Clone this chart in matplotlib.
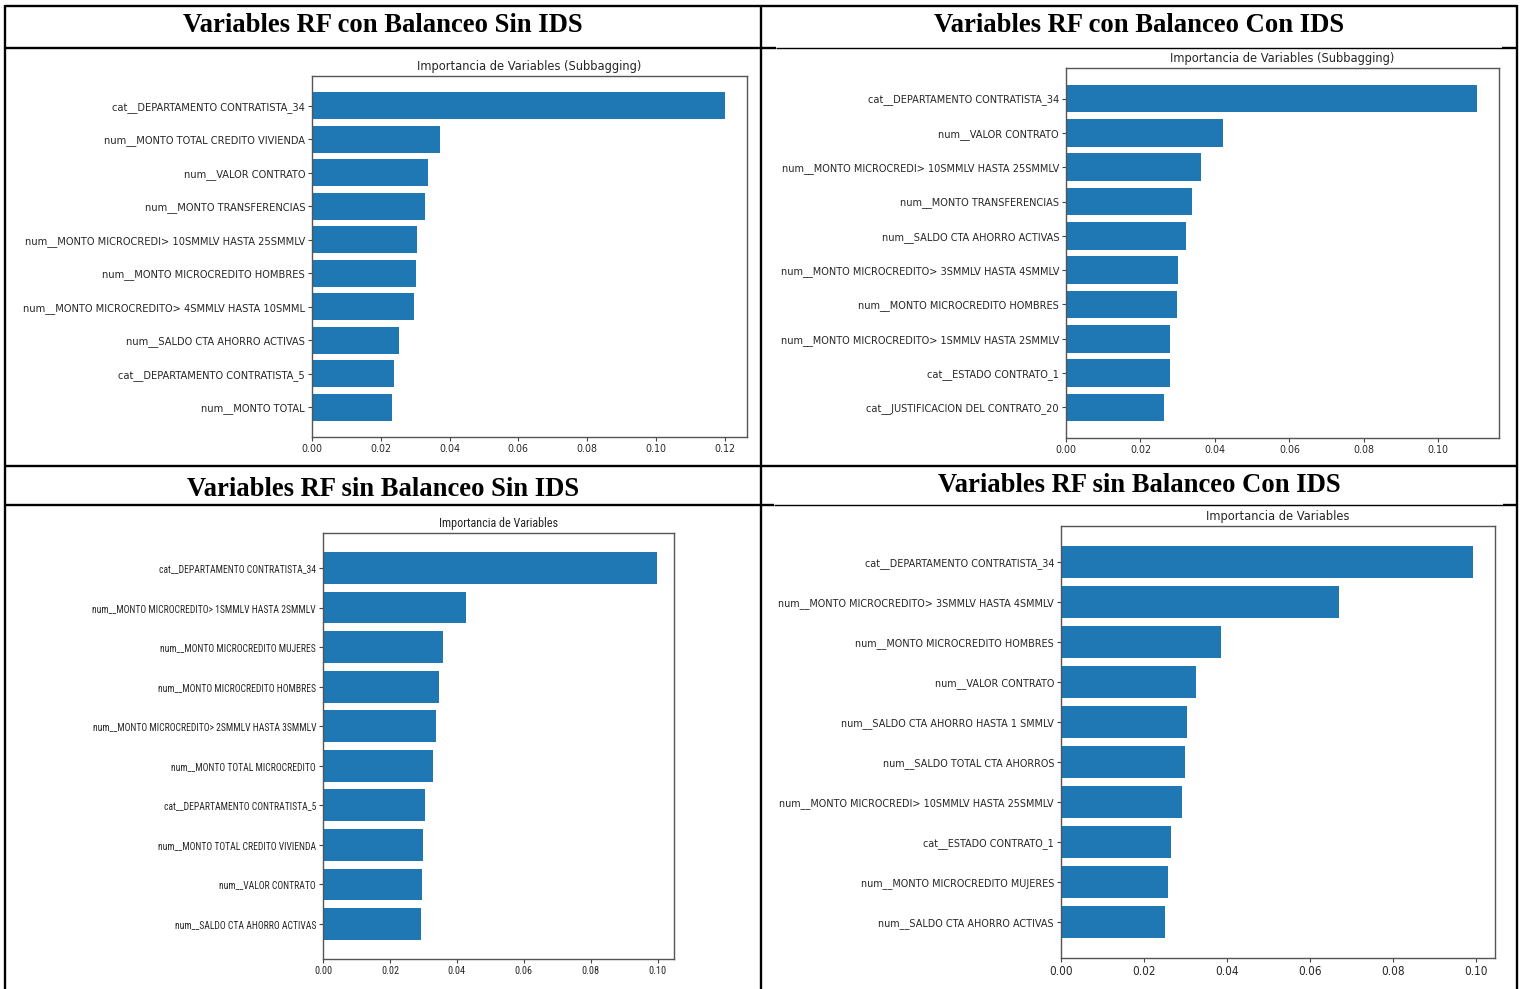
import matplotlib
matplotlib.use("Agg")
import matplotlib.pyplot as plt
from matplotlib import font_manager

W, H = 1523, 989
BAR_COLOR = "#1f77b4"

# ---- data -----------------------------------------------------------------
titles = [
    "Variables RF con Balanceo Sin IDS",
    "Variables RF con Balanceo Con IDS",
    "Variables RF sin Balanceo Sin IDS",
    "Variables RF sin Balanceo Con IDS",
]
chart_titles = [
    "Importancia de Variables (Subbagging)",
    "Importancia de Variables (Subbagging)",
    "Importancia de Variables",
    "Importancia de Variables",
]

labels_1 = [
    "cat__DEPARTAMENTO CONTRATISTA_34",
    "num__MONTO TOTAL CREDITO VIVIENDA",
    "num__VALOR CONTRATO",
    "num__MONTO TRANSFERENCIAS",
    "num__MONTO MICROCREDI> 10SMMLV HASTA 25SMMLV",
    "num__MONTO MICROCREDITO HOMBRES",
    "num__MONTO MICROCREDITO> 4SMMLV HASTA 10SMML",
    "num__SALDO CTA AHORRO ACTIVAS",
    "cat__DEPARTAMENTO CONTRATISTA_5",
    "num__MONTO TOTAL",
]
values_1 = [0.1201, 0.0373, 0.0338, 0.0330, 0.0304, 0.0303, 0.0297, 0.0253, 0.0239, 0.0233]

labels_2 = [
    "cat__DEPARTAMENTO CONTRATISTA_34",
    "num__VALOR CONTRATO",
    "num__MONTO MICROCREDI> 10SMMLV HASTA 25SMMLV",
    "num__MONTO TRANSFERENCIAS",
    "num__SALDO CTA AHORRO ACTIVAS",
    "num__MONTO MICROCREDITO> 3SMMLV HASTA 4SMMLV",
    "num__MONTO MICROCREDITO HOMBRES",
    "num__MONTO MICROCREDITO> 1SMMLV HASTA 2SMMLV",
    "cat__ESTADO CONTRATO_1",
    "cat__JUSTIFICACION DEL CONTRATO_20",
]
values_2 = [0.1105, 0.0422, 0.0362, 0.0339, 0.0322, 0.0301, 0.0298, 0.0280, 0.0278, 0.0264]

labels_3 = [
    "cat__DEPARTAMENTO CONTRATISTA_34",
    "num__MONTO MICROCREDITO> 1SMMLV HASTA 2SMMLV",
    "num__MONTO MICROCREDITO MUJERES",
    "num__MONTO MICROCREDITO HOMBRES",
    "num__MONTO MICROCREDITO> 2SMMLV HASTA 3SMMLV",
    "num__MONTO TOTAL MICROCREDITO",
    "cat__DEPARTAMENTO CONTRATISTA_5",
    "num__MONTO TOTAL CREDITO VIVIENDA",
    "num__VALOR CONTRATO",
    "num__SALDO CTA AHORRO ACTIVAS",
]
values_3 = [0.0999, 0.0428, 0.0359, 0.0348, 0.0338, 0.0328, 0.0304, 0.0299, 0.0296, 0.0293]

labels_4 = [
    "cat__DEPARTAMENTO CONTRATISTA_34",
    "num__MONTO MICROCREDITO> 3SMMLV HASTA 4SMMLV",
    "num__MONTO MICROCREDITO HOMBRES",
    "num__VALOR CONTRATO",
    "num__SALDO CTA AHORRO HASTA 1 SMMLV",
    "num__SALDO TOTAL CTA AHORROS",
    "num__MONTO MICROCREDI> 10SMMLV HASTA 25SMMLV",
    "cat__ESTADO CONTRATO_1",
    "num__MONTO MICROCREDITO MUJERES",
    "num__SALDO CTA AHORRO ACTIVAS",
]
values_4 = [0.0995, 0.0671, 0.0385, 0.0326, 0.0305, 0.0299, 0.0291, 0.0265, 0.0259, 0.0252]

x_max = [0.1265, 0.1163, 0.1049, 0.1047]
x_ticks = [
    [0.00, 0.02, 0.04, 0.06, 0.08, 0.10, 0.12],
    [0.00, 0.02, 0.04, 0.06, 0.08, 0.10],
    [0.00, 0.02, 0.04, 0.06, 0.08, 0.10],
    [0.00, 0.02, 0.04, 0.06, 0.08, 0.10],
]

# ---- fonts ----------------------------------------------------------------
available = {f.name for f in font_manager.fontManager.ttflist}
narrow = None
for cand in ["Liberation Sans Narrow", "DejaVu Sans Condensed", "Roboto Condensed", "Open Sans Condensed"]:
    if cand in available:
        narrow = cand
        break
has_dv_cond = any(f.name == "DejaVu Sans" and f.stretch in ("condensed", 500, "semi-condensed")
                  for f in font_manager.fontManager.ttflist)
label_family = "DejaVu Sans"
label_stretch = "condensed" if has_dv_cond else "normal"
narrow_family = narrow if narrow else "DejaVu Sans"
serif_family = ["Liberation Serif", "DejaVu Serif"]

# ---- figure ---------------------------------------------------------------
fig = plt.figure(figsize=(W / 100, H / 100), dpi=100)
fig.patch.set_facecolor("white")

# axes boxes in pixels: left, right, top, bottom
boxes = [
    (312, 747, 76, 437),
    (1066, 1499, 68, 438),
    (323, 674, 533, 959),
    (1061, 1495, 526, 958),
]
ylabel_sizes = [7.9, 7.8, 6.9, 7.75]
xlabel_sizes = [7.6, 7.6, 7.4, 8.4]
families = [label_family, label_family, narrow_family, label_family]
title_sizes = [9.2, 9.2, 8.7, 9.2]

panels = [
    (labels_1, values_1),
    (labels_2, values_2),
    (labels_3, values_3),
    (labels_4, values_4),
]

for i, ((labs, vals), (l, r, t, b)) in enumerate(zip(panels, boxes)):
    ax = fig.add_axes([l / W, 1 - b / H, (r - l) / W, (b - t) / H])
    ax.barh(labs, vals, color=BAR_COLOR, height=0.8)
    ax.invert_yaxis()
    ax.set_xlim(0, x_max[i])
    ax.set_xticks(x_ticks[i])
    ax.set_xticklabels([f"{v:.2f}" for v in x_ticks[i]])
    fkw = dict(family=families[i])
    if families[i] == "DejaVu Sans":
        fkw["stretch"] = label_stretch
    for lab, size in ([(t_, ylabel_sizes[i]) for t_ in ax.get_yticklabels()] +
                      [(t_, xlabel_sizes[i]) for t_ in ax.get_xticklabels()]):
        lab.set_fontsize(size)
        lab.set_color("#262626")
        lab.set_fontfamily(families[i])
        if "stretch" in fkw:
            lab.set_fontstretch(fkw["stretch"])
    ax.tick_params(length=3, width=0.8, pad=2, color="#444444")
    for sp in ax.spines.values():
        sp.set_color("#555555")
        sp.set_linewidth(1.0)
    ax.set_title(chart_titles[i], fontsize=title_sizes[i], color="#262626", pad=4, **fkw)

# ---- table frame and headings ---------------------------------------------
ov = fig.add_axes([0, 0, 1, 1], zorder=10)
ov.set_xlim(0, W)
ov.set_ylim(H, 0)
ov.axis("off")
ov.patch.set_alpha(0)

thick = 1.7
thin = 1.0
segs = [
    ((5, 1517), (6, 6), thick),
    ((5, 5), (5, 989), thick),
    ((1517, 1517), (5, 989), thick),
    ((761, 761), (5, 989), thick),
    ((5, 776), (48, 48), thick),
    ((776, 1502), (48, 48), thin),
    ((1502, 1517), (48, 48), thick),
    ((5, 1517), (465.5, 465.5), thick),
    ((5, 774), (505, 505), thick),
    ((774, 1503), (505, 505), thin),
    ((1503, 1517), (505, 505), thick),
]
for xs, ys, lw in segs:
    ov.plot(xs, ys, color="black", lw=lw, solid_capstyle="butt")

heading_pos = [(383, 26), (1139, 26), (383, 489), (1139, 485)]
for txt, (x, y) in zip(titles, heading_pos):
    ov.text(x, y, txt, ha="center", va="center", fontsize=19.2,
            fontweight="bold", family=serif_family, color="black")

fig.savefig("out.png", dpi=100)
